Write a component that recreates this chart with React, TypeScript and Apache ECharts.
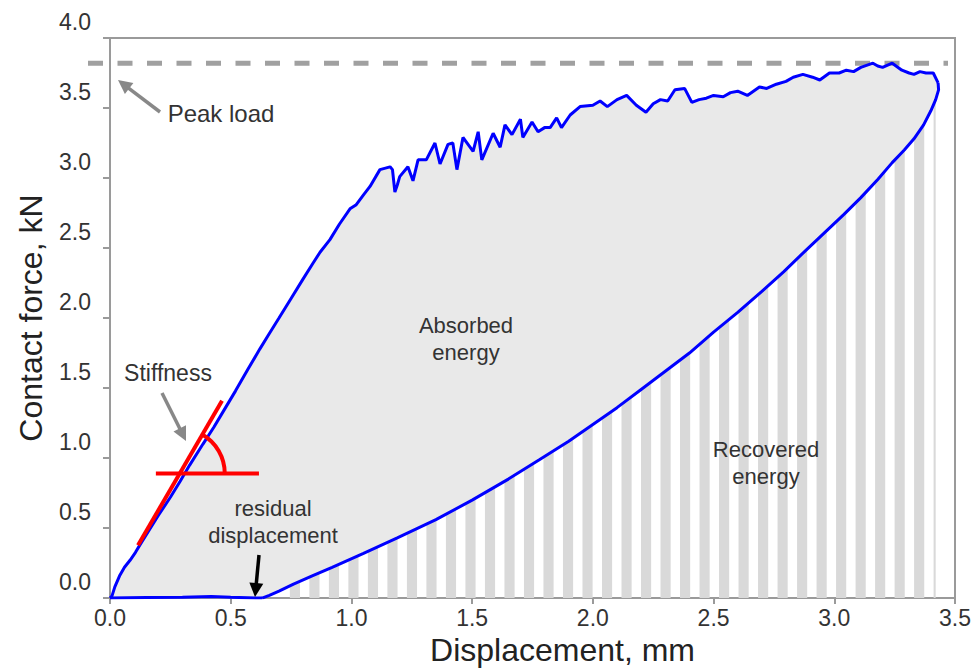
import React, { useEffect, useRef } from 'react';
import * as echarts from 'echarts';

// ---------- data (mm, kN) ----------
const loadingCurve: number[][] = [
  [0, 0], [0.008, 0.014], [0.02, 0.08], [0.041, 0.164], [0.06, 0.22], [0.083, 0.27], [0.105, 0.325],
  [0.124, 0.38], [0.16, 0.48], [0.2, 0.59], [0.25, 0.72], [0.29, 0.833], [0.33, 0.95], [0.385, 1.1],
  [0.43, 1.22], [0.468, 1.33], [0.52, 1.48], [0.57, 1.63], [0.621, 1.78], [0.66, 1.89], [0.7, 2.0],
  [0.75, 2.14], [0.8, 2.28], [0.84, 2.39], [0.87, 2.47], [0.911, 2.56], [0.95, 2.67], [0.994, 2.78],
  [1.02, 2.81], [1.05, 2.88], [1.077, 2.94], [1.118, 3.06], [1.16, 3.08], [1.17, 3.06], [1.18, 2.9],
  [1.19, 2.95], [1.2, 3.01], [1.234, 3.08], [1.255, 2.98], [1.276, 3.13], [1.31, 3.13], [1.346, 3.25],
  [1.367, 3.1], [1.4, 3.24], [1.42, 3.25], [1.437, 3.06], [1.462, 3.29], [1.504, 3.19], [1.525, 3.33],
  [1.54, 3.13], [1.587, 3.32], [1.616, 3.22], [1.636, 3.38], [1.665, 3.31], [1.7, 3.42], [1.71, 3.29],
  [1.748, 3.4], [1.773, 3.33], [1.8, 3.36], [1.823, 3.36], [1.85, 3.43], [1.87, 3.36], [1.906, 3.45],
  [1.947, 3.51], [2.0, 3.52], [2.03, 3.55], [2.06, 3.51], [2.1, 3.56], [2.14, 3.59], [2.18, 3.52],
  [2.22, 3.47], [2.25, 3.53], [2.28, 3.56], [2.31, 3.55], [2.34, 3.63], [2.38, 3.64], [2.41, 3.54],
  [2.44, 3.56], [2.47, 3.57], [2.5, 3.59], [2.54, 3.58], [2.57, 3.61], [2.6, 3.62], [2.64, 3.59],
  [2.69, 3.65], [2.72, 3.64], [2.76, 3.67], [2.8, 3.69], [2.83, 3.72], [2.87, 3.74], [2.91, 3.72],
  [2.94, 3.7], [2.98, 3.75], [3.02, 3.75], [3.05, 3.77], [3.08, 3.76], [3.11, 3.79], [3.16, 3.82],
  [3.18, 3.8], [3.2, 3.79], [3.24, 3.82], [3.28, 3.77], [3.31, 3.75], [3.33, 3.74], [3.355, 3.76],
  [3.38, 3.75], [3.41, 3.75], [3.43, 3.68],
];

const unloadingCurve: number[][] = [
  [3.43, 3.68], [3.432, 3.63], [3.42, 3.56], [3.4, 3.48], [3.37, 3.38], [3.33, 3.28], [3.29, 3.2],
  [3.24, 3.11], [3.18, 2.99], [3.11, 2.86], [3.04, 2.74], [2.96, 2.61], [2.88, 2.48], [2.79, 2.33],
  [2.7, 2.19], [2.6, 2.04], [2.5, 1.9], [2.4, 1.75], [2.3, 1.62], [2.2, 1.49], [2.1, 1.36],
  [2.0, 1.24], [1.9, 1.12], [1.78, 0.99], [1.65, 0.85], [1.5, 0.7], [1.35, 0.56], [1.19, 0.43],
  [1.05, 0.32], [0.92, 0.22], [0.84, 0.16], [0.76, 0.1], [0.7, 0.05], [0.66, 0.02], [0.63, 0.0],
];

const baseReturn: number[][] = [
  [0.63, 0.0], [0.5, 0.006], [0.42, 0.012], [0.3, 0.006], [0.15, 0.004], [0, 0],
];

const peakLoad = 3.82;
const stiffnessLine: number[][] = [[0.116, 0.377], [0.464, 1.41]];
const horizontalLine: number[][] = [[0.19, 0.89], [0.617, 0.89]];
const angleVertex: number[] = [0.289, 0.89];

const xTickValues = [0, 0.5, 1.0, 1.5, 2.0, 2.5, 3.0, 3.5];
const yTickValues = [0, 0.5, 1.0, 1.5, 2.0, 2.5, 3.0, 3.5, 4.0];

// ---------- style ----------
const FONT = '"Liberation Sans", Arial, sans-serif';
const W = 976;
const H = 671;
const STRIPE_START = 0.745;
const STRIPE_PERIOD = 0.0808;
const STRIPE_WIDTH = 0.042;

export default function App() {
  const ref = useRef<HTMLDivElement>(null);

  useEffect(() => {
    document.body.style.margin = '0';
    const chart = echarts.init(ref.current!, null, { renderer: 'svg' });
    const loop = [...loadingCurve, ...unloadingCurve.slice(1), ...baseReturn.slice(1)];

    const lineCommon = { showSymbol: false, symbol: 'none', silent: true };
    const option: any = {
      animation: false,
      grid: {
        left: 110, right: 21, top: 38, bottom: 71,
        show: true, borderColor: '#9a9a9a', borderWidth: 2, backgroundColor: 'transparent',
      },
      xAxis: {
        type: 'value', min: xTickValues[0], max: xTickValues[xTickValues.length - 1], interval: 0.5,
        name: 'Displacement, mm', nameLocation: 'middle', nameGap: 35,
        nameTextStyle: { fontSize: 32, color: '#222', fontFamily: FONT, padding: [0, 0, 0, 60] },
        axisLine: { show: true, lineStyle: { color: '#9a9a9a', width: 2 } },
        axisTick: { show: true, length: 6, lineStyle: { color: '#9a9a9a', width: 2 } },
        axisLabel: {
          fontSize: 23, color: '#333', fontFamily: FONT, margin: 8,
          formatter: (v: number) => v.toFixed(1),
        },
        splitLine: { show: false },
      },
      yAxis: {
        type: 'value', min: yTickValues[0], max: yTickValues[yTickValues.length - 1], interval: 0.5,
        name: 'Contact force, kN', nameLocation: 'middle', nameGap: 63,
        nameTextStyle: { fontSize: 32, color: '#222', fontFamily: FONT },
        axisLine: { show: true, lineStyle: { color: '#9a9a9a', width: 2 } },
        axisTick: { show: true, length: 7, lineStyle: { color: '#9a9a9a', width: 2 } },
        axisLabel: {
          fontSize: 23, color: '#333', fontFamily: FONT, margin: 19,
          verticalAlign: 'bottom', lineHeight: 32,
          formatter: (v: number) => v.toFixed(1),
        },
        splitLine: { show: false },
      },
      series: [
        {
          type: 'custom', name: 'recovered', silent: true, z: 1,
          data: [[0, 0]], encode: { x: 0, y: 1 },
          renderItem: (_p: any, api: any) => {
            const pts = unloadingCurve.slice(2).map((d) => api.coord(d)).sort((a: number[], b: number[]) => a[0] - b[0]);
            const y0 = api.coord([0, 0])[1];
            const minX = pts[0][0];
            const maxX = pts[pts.length - 1][0];
            const interp = (x: number) => {
              for (let i = 0; i < pts.length - 1; i++) {
                const a = pts[i], b = pts[i + 1];
                if (x >= a[0] && x <= b[0]) {
                  const t = b[0] === a[0] ? 0 : (x - a[0]) / (b[0] - a[0]);
                  return a[1] + t * (b[1] - a[1]);
                }
              }
              return pts[pts.length - 1][1];
            };
            const children: any[] = [];
            for (let k = 0; k < 200; k++) {
              const xs = STRIPE_START + k * STRIPE_PERIOD;
              const xl0 = api.coord([xs, 0])[0];
              if (xl0 >= maxX) break;
              const xl = Math.max(xl0, minX);
              const xr = Math.min(api.coord([xs + STRIPE_WIDTH, 0])[0], maxX);
              if (xr <= xl) continue;
              const poly: number[][] = [[xl, y0], [xl, interp(xl)]];
              for (const p of pts) if (p[0] > xl && p[0] < xr) poly.push(p);
              poly.push([xr, interp(xr)]);
              poly.push([xr, y0]);
              children.push({ type: 'polygon', shape: { points: poly }, style: { fill: '#d9d9d9' } });
            }
            return { type: 'group', children };
          },
        },
        {
          type: 'custom', name: 'absorbed', silent: true, z: 1,
          data: [[0, 0]], encode: { x: 0, y: 1 },
          renderItem: (_p: any, api: any) => ({
            type: 'polygon',
            shape: { points: loop.map((d) => api.coord(d)) },
            style: { fill: '#e9e9e9' },
          }),
        },
        {
          type: 'line', name: 'loading', data: loadingCurve, z: 5, ...lineCommon,
          lineStyle: { color: '#0000ff', width: 3 },
        },
        {
          type: 'line', name: 'unloading', data: unloadingCurve, z: 5, ...lineCommon,
          lineStyle: { color: '#0000ff', width: 3 },
        },
        {
          type: 'line', name: 'base', data: baseReturn, z: 5, ...lineCommon,
          lineStyle: { color: '#0000ff', width: 3 },
        },
        {
          type: 'line', name: 'stiffness', data: stiffnessLine, z: 6, ...lineCommon,
          lineStyle: { color: '#ff0000', width: 4 },
        },
        {
          type: 'line', name: 'horizontal', data: horizontalLine, z: 6, ...lineCommon,
          lineStyle: { color: '#ff0000', width: 4 },
        },
      ],
    };
    chart.setOption(option);

    const px = (d: number[]) => chart.convertToPixel({ gridIndex: 0 }, d) as number[];
    const arrow = (x1: number, y1: number, x2: number, y2: number, color: string, w: number, hl: number, hw: number) => {
      const dx = x2 - x1, dy = y2 - y1;
      const len = Math.sqrt(dx * dx + dy * dy);
      const ux = dx / len, uy = dy / len;
      const bx = x2 - ux * hl, by = y2 - uy * hl;
      return [
        { type: 'line', z: 20, shape: { x1, y1, x2: bx + ux * 2, y2: by + uy * 2 }, style: { stroke: color, lineWidth: w } },
        {
          type: 'polygon', z: 20,
          shape: { points: [[x2, y2], [bx - uy * hw, by + ux * hw], [bx + uy * hw, by - ux * hw]] },
          style: { fill: color },
        },
      ];
    };
    const text = (t: string, x: number, y: number, size = 23, lh = 27) => ({
      type: 'text', z: 20, x, y,
      style: {
        text: t, fill: '#333', font: `${size}px ${FONT}`, fontSize: size, fontFamily: FONT,
        align: 'center', verticalAlign: 'middle', lineHeight: lh,
      },
    });

    const peakY = px([0, peakLoad])[1];
    const vtx = px(angleVertex);
    chart.setOption({
      graphic: [
        {
          type: 'line', z: 4, shape: { x1: 88, y1: peakY, x2: 948, y2: peakY },
          style: { stroke: '#a0a0a0', lineWidth: 5, lineDash: [15, 14.5] },
        },
        ...arrow(160, 112, 118, 80, '#888888', 3.5, 14, 7),
        ...arrow(162, 393, 186, 441, '#888888', 3.5, 14, 7),
        ...arrow(259, 555, 255, 597, '#000000', 3.5, 14, 7),
        {
          type: 'arc', z: 21,
          shape: { cx: vtx[0], cy: vtx[1], r: 45, startAngle: -Math.PI / 3, endAngle: 0, clockwise: true },
          style: { stroke: '#ff0000', lineWidth: 4, fill: 'none' },
        },
        text('Peak load', 221, 113, 24),
        text('Stiffness', 168, 373, 23),
        text('Absorbed\nenergy', 466, 339, 22, 26.5),
        text('residual\ndisplacement', 273, 522, 22, 26.5),
        text('Recovered\nenergy', 766, 463, 22, 26.5),
      ],
    });

    return () => chart.dispose();
  }, []);

  return <div ref={ref} style={{ width: W, height: H }} />;
}
